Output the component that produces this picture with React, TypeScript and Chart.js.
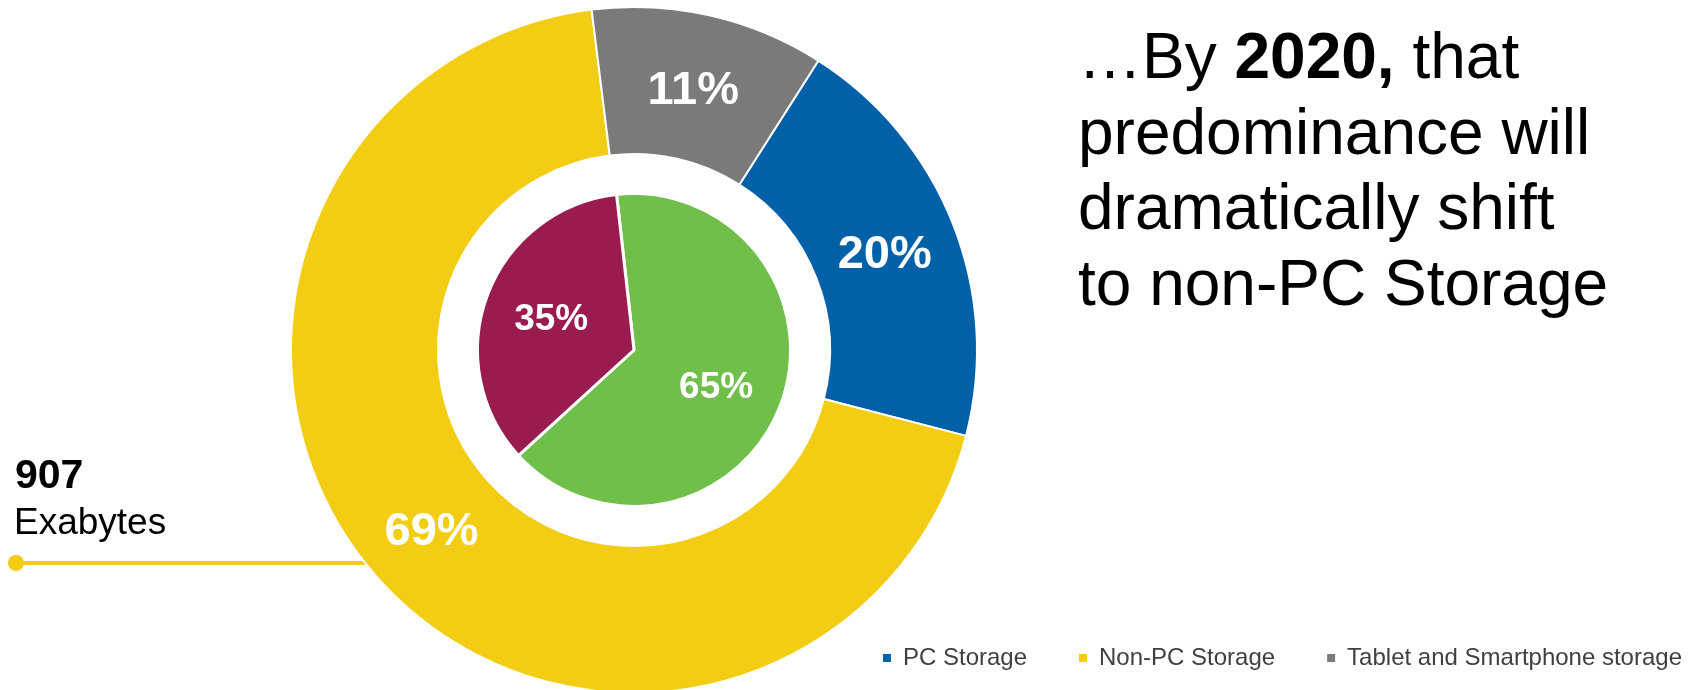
import React, { useEffect, useRef } from "react";
import { Chart, registerables } from "chart.js";

Chart.register(...registerables);

// ---- data ----
const categories = ["PC Storage", "Non-PC Storage", "Tablet and Smartphone storage"];
const outerShare = [20, 69, 11]; // % of storage, outer ring
const innerShare = [65, 35]; // % split, inner pie

// ---- styles ----
const outerColors = ["#0061A8", "#F2CD14", "#7A7A7A"];
const innerColors = ["#70BF4A", "#9A1B4F"];
const FONT = 'Arial, "Liberation Sans", sans-serif';

// label placement inside each slice: fraction of the slice angle and of the ring thickness
const labelPlacement: Array<null | { size: number; angle: number; radius: number }> = [
  { size: 47, angle: 0.5, radius: 0.5 },
  null,
  { size: 37, angle: 0.51, radius: 0.57 },
];

const sliceLabelPlugin = {
  id: "sliceLabels",
  afterDatasetsDraw(chart: any) {
    const { ctx } = chart;
    chart.data.datasets.forEach((ds: any, di: number) => {
      const cfg = labelPlacement[di];
      if (!cfg) return;
      const meta = chart.getDatasetMeta(di);
      meta.data.forEach((arc: any, i: number) => {
        const p = arc.getProps(["x", "y", "startAngle", "endAngle", "innerRadius", "outerRadius"], true);
        const a = p.startAngle + (p.endAngle - p.startAngle) * cfg.angle;
        const r = p.innerRadius + (p.outerRadius - p.innerRadius) * cfg.radius;
        ctx.save();
        ctx.font = `bold ${cfg.size}px ${FONT}`;
        ctx.fillStyle = "#ffffff";
        ctx.textAlign = "center";
        ctx.textBaseline = "alphabetic";
        // centre the digits (cap height ~0.716em) on the anchor point
        ctx.fillText(`${ds.data[i]}%`, p.x + r * Math.cos(a), p.y + r * Math.sin(a) + cfg.size * 0.358);
        ctx.restore();
      });
    });
  },
};

export default function App() {
  const canvasRef = useRef<HTMLCanvasElement | null>(null);

  useEffect(() => {
    const canvas = canvasRef.current;
    if (!canvas) return;
    const baseGen = (Chart as any).overrides.doughnut.plugins.legend.labels.generateLabels;
    const chart = new Chart(canvas, {
      type: "doughnut",
      data: {
        labels: categories,
        datasets: [
          {
            label: "2020 storage",
            data: outerShare,
            backgroundColor: outerColors,
            borderColor: "#ffffff",
            borderWidth: 2,
            weight: 147,
            rotation: 32.5,
            clip: false,
          } as any,
          {
            label: "gap",
            data: [1],
            backgroundColor: "rgba(0,0,0,0)",
            borderWidth: 0,
            weight: 39.5,
            clip: false,
          } as any,
          {
            label: "inner split",
            data: innerShare,
            backgroundColor: innerColors,
            borderColor: "#ffffff",
            borderWidth: 3,
            weight: 156.5,
            rotation: -6.4,
            clip: false,
          } as any,
        ],
      },
      options: {
        responsive: false,
        animation: false,
        events: [],
        radius: 343,
        cutout: 0,
        layout: { padding: { top: 106, bottom: 10, left: 0, right: 0 } },
        plugins: {
          tooltip: { enabled: false },
          legend: {
            position: "bottom",
            align: "end",
            labels: {
              boxWidth: 8,
              boxHeight: 8,
              padding: 52,
              color: "#404040",
              font: { family: FONT, size: 24 },
              generateLabels: (c: any) =>
                baseGen(c).map((item: any) => ({ ...item, lineWidth: 0 })),
            },
          },
        },
      } as any,
      plugins: [sliceLabelPlugin],
    });
    return () => chart.destroy();
  }, []);

  return (
    <div
      style={{
        position: "absolute",
        left: 0,
        top: 0,
        width: 1696,
        height: 690,
        overflow: "hidden",
        background: "#ffffff",
      }}
    >
      <div
        style={{
          position: "absolute",
          left: 16,
          top: 561,
          width: 360,
          height: 4,
          background: "#F2CD14",
        }}
      />
      <div
        style={{
          position: "absolute",
          left: 8,
          top: 555,
          width: 16,
          height: 16,
          borderRadius: "50%",
          background: "#F2CD14",
        }}
      />
      <canvas
        ref={canvasRef}
        width={2200}
        height={690}
        style={{ position: "absolute", left: -466, top: 0, width: 2200, height: 690 }}
      />
      <div
        style={{
          position: "absolute",
          left: 15,
          top: 452,
          font: `bold 41px/45px ${FONT}`,
          color: "#000",
          whiteSpace: "nowrap",
        }}
      >
        907
      </div>
      <div
        style={{
          position: "absolute",
          left: 14,
          top: 499,
          font: `37px/45px ${FONT}`,
          color: "#000",
          whiteSpace: "nowrap",
        }}
      >
        Exabytes
      </div>
      <div
        style={{
          position: "absolute",
          left: 1078,
          top: 19,
          font: `64px/75.5px ${FONT}`,
          color: "#000",
          whiteSpace: "nowrap",
        }}
      >
        <div>
          …By <b>2020,</b> that
        </div>
        <div>predominance will</div>
        <div>dramatically shift</div>
        <div>to non-PC Storage</div>
      </div>
    </div>
  );
}
